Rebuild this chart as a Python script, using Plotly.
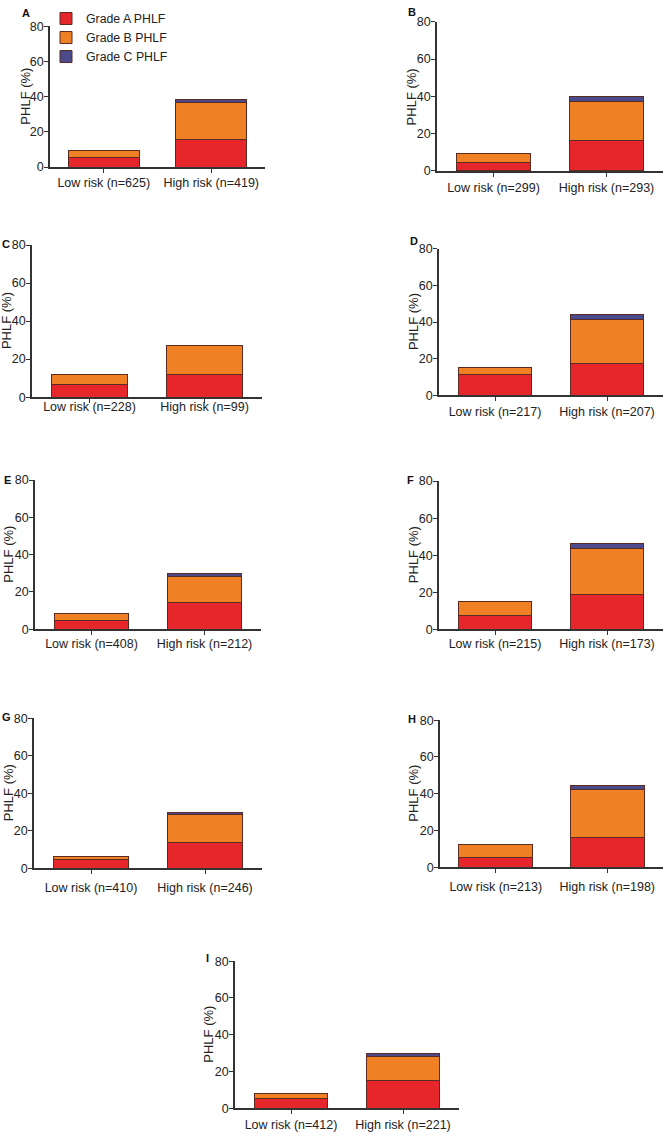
import plotly.graph_objects as go

# ---------------- data ----------------
panels = ["A", "B", "C", "D", "E", "F", "G", "H", "I"]
low_n = [625, 299, 228, 217, 408, 215, 410, 213, 412]
high_n = [419, 293, 99, 207, 212, 173, 246, 198, 221]

# PHLF percentages per grade (stacked segments)
grade_a_low = [5.4, 4.4, 6.4, 11.1, 4.6, 7.4, 4.6, 5.5, 5.4]
grade_b_low = [4.1, 5.0, 5.3, 4.1, 3.9, 7.5, 1.9, 6.7, 2.5]
grade_c_low = [0, 0, 0, 0, 0, 0, 0, 0, 0]
grade_a_high = [15.9, 16.5, 11.9, 17.2, 14.3, 18.6, 13.9, 16.1, 15.3]
grade_b_high = [20.5, 20.7, 15.2, 24.4, 14.0, 25.0, 14.7, 26.1, 13.0]
grade_c_high = [2.0, 2.6, 0, 2.3, 1.8, 2.5, 1.3, 2.3, 1.4]

series_names = ["Grade A PHLF", "Grade B PHLF", "Grade C PHLF"]
y_ticks = [0, 20, 40, 60, 80]

# ---------------- style / layout ----------------
W, H = 665, 1139
colors = ["#E6262B", "#EF8124", "#4B4A8C"]
outline = "#5a2b22"
axis_col = "#333333"
txt_col = "#222222"
FONT = "Liberation Sans, Arial, sans-serif"

# pixel boxes: (x0, x1, ytop, ybottom)
boxes = [
    (50, 265, 19.5, 162),
    (437, 663, 15, 166),
    (32, 262, 241, 395),
    (439, 663, 245, 393),
    (35, 261, 479, 630),
    (439, 663, 480, 630),
    (34, 262, 720, 872),
    (440, 663, 722, 871),
    (235, 459, 966, 1115),
]
letter_pos = [(26, 6), (412, 5), (6, 240), (414, 237), (7, 479),
              (411, 479), (6, 719), (412, 721), (207, 963)]
x_label_shift = [-1, 0, -7, 0, -2, -2, 3, 3, 0]

grades_low = [grade_a_low, grade_b_low, grade_c_low]
grades_high = [grade_a_high, grade_b_high, grade_c_high]

fig = go.Figure()
annotations = []
layout_axes = {}

for i, p in enumerate(panels):
    k = "" if i == 0 else str(i + 1)
    cats = [f"Low risk (n={low_n[i]})", f"High risk (n={high_n[i]})"]
    for g in range(3):
        vals = [grades_low[g][i], grades_high[g][i]]
        fig.add_trace(go.Bar(
            x=cats,
            y=[v if v else None for v in vals],
            name=series_names[g],
            marker=dict(color=colors[g], line=dict(color=outline, width=1)),
            xaxis="x" + k, yaxis="y" + k,
            showlegend=(i == 0),
            legendgroup=series_names[g],
            hoverinfo="skip",
        ))
    x0, x1, yt, yb = boxes[i]
    layout_axes["xaxis" + k] = dict(
        domain=[x0 / W, x1 / W], anchor="y" + k,
        type="category", categoryorder="array", categoryarray=cats,
        range=[-0.5, 1.5],
        showline=True, linecolor=axis_col, linewidth=1.5,
        ticks="outside", ticklen=4, tickwidth=1.2, tickcolor=axis_col,
        ticklabelstandoff=x_label_shift[i],
        showgrid=False, zeroline=False,
        tickfont=dict(family=FONT, size=12.5, color=txt_col),
        fixedrange=True,
    )
    layout_axes["yaxis" + k] = dict(
        domain=[1 - yb / H, 1 - yt / H], anchor="x" + k,
        range=[0, 80], tickvals=y_ticks,
        showline=True, linecolor=axis_col, linewidth=1.5,
        ticks="outside", ticklen=4, tickwidth=1.2, tickcolor=axis_col,
        ticklabelstandoff=-2,
        showgrid=False, zeroline=False,
        tickfont=dict(family=FONT, size=12.5, color=txt_col),
        fixedrange=True,
    )
    # y-axis title
    off = 24 if i == 0 else 26
    annotations.append(dict(
        text="PHLF (%)", textangle=-90, showarrow=False,
        xref="paper", yref="paper",
        x=(x0 - off) / W, y=1 - ((yt + yb) / 2) / H,
        xanchor="center", yanchor="middle",
        font=dict(family=FONT, size=13, color=txt_col),
    ))
    # panel letter
    lx, ly = letter_pos[i]
    annotations.append(dict(
        text=f"<b>{p}</b>", showarrow=False,
        xref="paper", yref="paper",
        x=lx / W, y=1 - ly / H,
        xanchor="center", yanchor="middle",
        font=dict(family=FONT, size=11, color="#111111"),
    ))

fig.update_layout(
    width=W, height=H,
    margin=dict(l=0, r=0, t=0, b=0),
    paper_bgcolor="white", plot_bgcolor="white",
    barmode="stack", bargap=0.34,
    showlegend=True,
    legend=dict(
        x=46 / W, y=1 + 3 / H, xanchor="left", yanchor="top",
        traceorder="normal", bgcolor="rgba(0,0,0,0)",
        font=dict(family=FONT, size=12.3, color=txt_col),
        itemwidth=30, tracegroupgap=0,
    ),
    annotations=annotations,
    **layout_axes,
)

fig.write_html(
    "out.html",
    config={"displayModeBar": False},
    post_script="document.body.style.margin='0';document.body.style.padding='0';"
                "document.body.style.overflow='hidden';",
)
